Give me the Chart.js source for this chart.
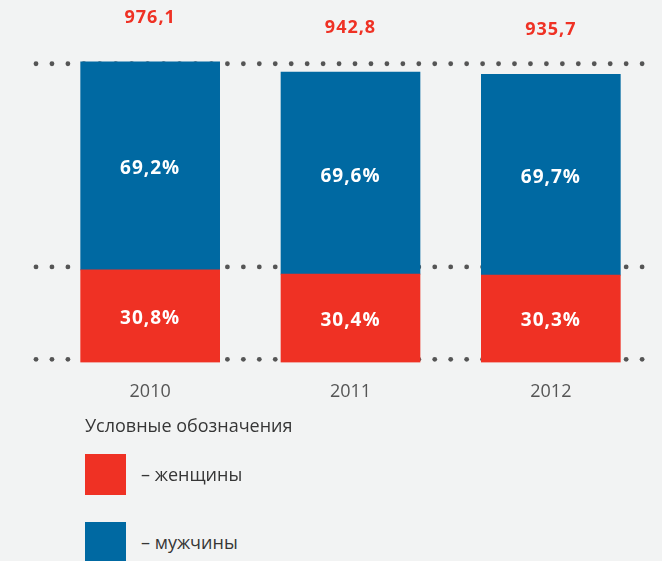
<!DOCTYPE html>
<html>
<head>
<meta charset="utf-8">
<script src="https://cdn.jsdelivr.net/npm/chart.js@4/dist/chart.umd.min.js"></script>
<style>
  html, body { margin:0; padding:0; background:#f2f3f3; }
  #wrap { position:relative; width:662px; height:561px; overflow:hidden; background:#f2f3f3; font-family:"Open Sans", sans-serif; }
  #box { position:absolute; left:0; top:0; width:662px; height:422px; }
  #legendTitle { position:absolute; left:85px; top:413px; font-size:18px; line-height:24px; color:#363636; white-space:nowrap; }
  .item { position:absolute; left:85px; height:41px; }
  .sw { position:absolute; left:0; top:0; width:41px; height:41px; }
  .lt { position:absolute; left:56px; top:8px; font-size:18px; line-height:24px; color:#363636; white-space:nowrap; }
</style>
</head>
<body>
<div id="wrap">
  <div id="box"><canvas id="c"></canvas></div>
  <div id="legendTitle">Условные обозначения</div>
  <div id="legend"></div>
</div>
<script>
// ---- data ----
const years = ['2010', '2011', '2012'];
const totals = ['976,1', '942,8', '935,7'];            // thousand people (labels)
const women = [300.6, 286.6, 283.5];                    // 30.8%, 30.4%, 30.3% of total
const men = [675.5, 656.2, 652.2];                      // 69.2%, 69.6%, 69.7% of total
const womenPct = ['30,8%', '30,4%', '30,3%'];
const menPct = ['69,2%', '69,6%', '69,7%'];
const seriesNames = ['– женщины', '– мужчины'];
const dotLevels = [10, 310, 970];

const RED = '#ef3124';
const BLUE = '#0069a2';

const dotsPlugin = {
  id: 'dots',
  beforeDatasetsDraw(chart) {
    const ctx = chart.ctx;
    const y = chart.scales.y;
    ctx.save();
    ctx.fillStyle = '#555555';
    dotLevels.forEach(v => {
      const py = y.getPixelForValue(v);
      for (let i = 0; i <= 38; i++) {
        const px = 36 + i * 15.95;
        ctx.beginPath();
        ctx.arc(px, py, 2.4, 0, Math.PI * 2);
        ctx.fill();
      }
    });
    ctx.restore();
  }
};

const labelsPlugin = {
  id: 'segLabels',
  afterDatasetsDraw(chart) {
    const ctx = chart.ctx;
    ctx.save();
    ctx.textAlign = 'center';
    ctx.textBaseline = 'middle';
    ctx.letterSpacing = '1px';
    const pcts = [womenPct, menPct];
    chart.data.datasets.forEach((ds, di) => {
      const meta = chart.getDatasetMeta(di);
      meta.data.forEach((el, i) => {
        ctx.fillStyle = '#ffffff';
        ctx.font = 'bold 19px "Open Sans"';
        ctx.fillText(pcts[di][i], el.x, (el.y + el.base) / 2 + (di === 1 ? 3 : 2));
      });
    });
    const topMeta = chart.getDatasetMeta(1);
    topMeta.data.forEach((el, i) => {
      ctx.fillStyle = RED;
      ctx.font = 'bold 18px "Open Sans"';
      ctx.fillText(totals[i], el.x, el.y - 44);
    });
    ctx.restore();
  }
};

new Chart(document.getElementById('c'), {
  type: 'bar',
  data: {
    labels: years,
    datasets: [
      { label: seriesNames[0], data: women, backgroundColor: RED, borderWidth: 0, barThickness: 139 },
      { label: seriesNames[1], data: men, backgroundColor: BLUE, borderWidth: 0, barThickness: 139 }
    ]
  },
  options: {
    responsive: true,
    maintainAspectRatio: false,
    animation: false,
    events: [],
    layout: { padding: { left: 50, right: 11, top: 54.5, bottom: 0 } },
    plugins: { legend: { display: false }, tooltip: { enabled: false } },
    scales: {
      x: {
        stacked: true,
        grid: { display: false, drawTicks: false },
        border: { display: false },
        ticks: { color: '#555555', padding: 19, font: { family: '"Open Sans"', size: 18 } }
      },
      y: {
        stacked: true, display: false, min: 0, max: 1000
      }
    }
  },
  plugins: [dotsPlugin, labelsPlugin]
});

// HTML legend built from series names/colours
const legend = document.getElementById('legend');
const colors = [RED, BLUE];
const tops = [454, 522];
seriesNames.forEach((n, i) => {
  const d = document.createElement('div');
  d.className = 'item';
  d.style.top = tops[i] + 'px';
  d.innerHTML = '<div class="sw" style="background:' + colors[i] + '"></div><div class="lt">' + n + '</div>';
  legend.appendChild(d);
});
</script>
</body>
</html>
